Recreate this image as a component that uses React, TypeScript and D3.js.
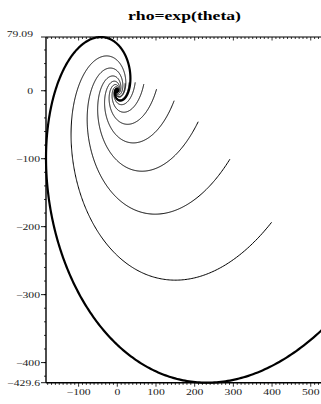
import React from "react";
import * as d3 from "d3";

// ---- data ----
const titleText = "rho=exp(theta)";
// growth rate of the logarithmic spiral in the plotted (data) coordinates
const growthRate = 0.5389;
// radius at the lowest point of every curve (first = thick curve)
const bottomRadius = [488.0, 316.6, 206.3, 134.5, 87.2, 56.1, 35.9, 23.3, 15.1, 9.8];
// polar angle (degrees) at which each curve ends
const endAngleDeg = [-15, -25.9, -19.1, -12.3, -5.7, 1.2, 8.1, 14.9, 21.7, 28.5];
const xDomain = [-184.3, 526.5];
const yDomain = [-429.6, 79.09];
const xTickValues = [-100, 0, 100, 200, 300, 400, 500];
const xTickLabels = ["−100", "0", "100", "200", "300", "400", "500"];
const yTickValues = [79.09, 0, -100, -200, -300, -400, -429.6];
const yTickLabels = ["79.09", "0", "−100", "−200", "−300", "−400", "−429.6"];

const W = 321;
const H = 404;
const left = 46;
const right = 321;
const top = 37;
const bottom = 382.7;

export default function App() {
  const x = d3.scaleLinear().domain(xDomain).range([left, right]);
  const y = d3.scaleLinear().domain(yDomain).range([bottom, top]);
  const thetaB = -Math.atan(1 / growthRate);

  const curves = bottomRadius.map((R, i) => {
    const tEnd = (endAngleDeg[i] * Math.PI) / 180;
    const tMin = thetaB + Math.log(0.3 / R) / growthRate;
    const pts: [number, number][] = [];
    const n = Math.ceil((tEnd - tMin) / 0.01);
    for (let j = 0; j <= n; j++) {
      const t = tMin + ((tEnd - tMin) * j) / n;
      const r = R * Math.exp(growthRate * (t - thetaB));
      pts.push([r * Math.cos(t), r * Math.sin(t)]);
    }
    return pts;
  });

  const line = d3
    .line<[number, number]>()
    .x((d) => x(d[0]))
    .y((d) => y(d[1]));

  const xMinor = d3.range(-180, 530, 10);
  const yMinor = d3.range(-420, 80, 20);
  const font = "'Liberation Serif', 'Times New Roman', serif";

  return (
    <svg
      width={W}
      height={H}
      style={{ position: "absolute", left: 0, top: 0, background: "#fff" }}
    >
      <defs>
        <clipPath id="plotclip">
          <rect x={left - 2} y={top - 2} width={right - left + 10} height={bottom - top + 4} />
        </clipPath>
      </defs>
      <rect x={0} y={0} width={W} height={H} fill="#fff" />
      <text
        x={128}
        y={20}
        fontFamily={font}
        fontWeight="bold"
        fontSize={12.5}
        textLength={113}
        lengthAdjust="spacingAndGlyphs"
        fill="#000"
      >
        {titleText}
      </text>

      <g clipPath="url(#plotclip)" fill="none" stroke="#000">
        {curves.map((pts, i) => (
          <path key={i} d={line(pts) || ""} strokeWidth={i === 0 ? 2.2 : 1} strokeLinejoin="round" />
        ))}
      </g>

      {/* frame */}
      <g stroke="#000" fill="none">
        <line x1={left} x2={right} y1={top} y2={top} strokeWidth={1.2} />
        <line x1={left} x2={left} y1={top} y2={bottom} strokeWidth={1.4} />
        <line x1={left} x2={right} y1={bottom} y2={bottom} strokeWidth={1.4} />
        {xMinor.map((v) => {
          const major = v % 100 === 0;
          return (
            <g key={"x" + v}>
              <line x1={x(v)} x2={x(v)} y1={bottom} y2={bottom + (major ? 4 : 2.2)} strokeWidth={0.8} />
              <line x1={x(v)} x2={x(v)} y1={top} y2={top + (major ? 3.5 : 2)} strokeWidth={0.8} />
            </g>
          );
        })}
        {yMinor.map((v) => (
          <line key={"y" + v} x1={left - 2} x2={left} y1={y(v)} y2={y(v)} strokeWidth={0.8} />
        ))}
        {yTickValues.map((v) => (
          <line key={"yM" + v} x1={left - 5} x2={left} y1={y(v)} y2={y(v)} strokeWidth={0.9} />
        ))}
      </g>

      <g fontFamily={font} fontSize={9} fill="#222">
        {xTickValues.map((v, i) => (
          <text key={"xl" + v} transform={`translate(${x(v)},395) scale(1.3,1)`} textAnchor="middle">
            {xTickLabels[i]}
          </text>
        ))}
        {yTickValues.map((v, i) => (
          <text
            key={"yl" + v}
            transform={`translate(${v < 0 ? 40 : 33},${y(v) + (v === yDomain[1] ? 0 : 3)}) scale(1.3,1)`}
            textAnchor="end"
          >
            {yTickLabels[i]}
          </text>
        ))}
      </g>
    </svg>
  );
}
